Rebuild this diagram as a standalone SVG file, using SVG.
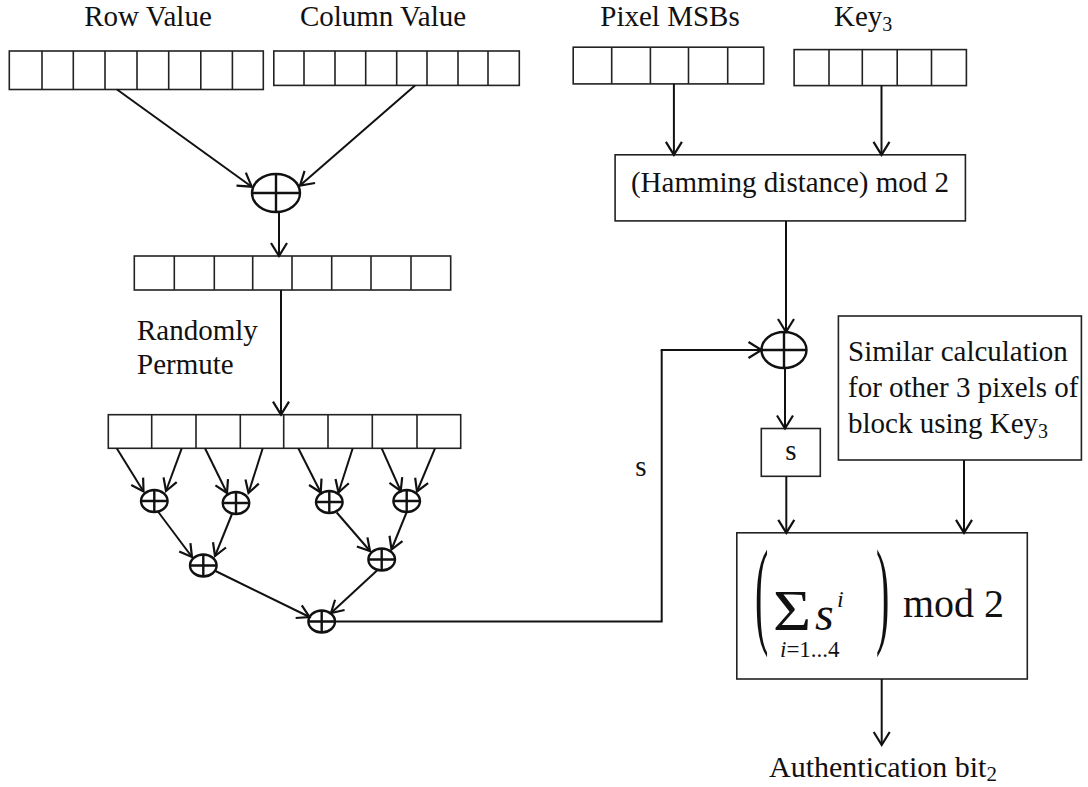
<svg xmlns="http://www.w3.org/2000/svg" width="1088" height="787" viewBox="0 0 1088 787">
  <defs>
    <marker id="head" markerUnits="userSpaceOnUse" markerWidth="30" markerHeight="30" viewBox="-15 -15 30 30" refX="0" refY="0" orient="auto">
      <path d="M-13,-8 L0,0 L-13,8" fill="none" stroke="#111" stroke-width="2.2"/>
    </marker>
    <marker id="headS" markerUnits="userSpaceOnUse" markerWidth="30" markerHeight="30" viewBox="-15 -15 30 30" refX="0" refY="0" orient="auto">
      <path d="M-12,-7 L0,0 L-12,7" fill="none" stroke="#111" stroke-width="2.2"/>
    </marker>
  </defs>
  <style>
    text { font-family: "Liberation Serif", "Times New Roman", serif; fill: #111; }
    .lbl { font-size: 29px; }
    .box { fill: #fff; stroke: #222; stroke-width: 1.6; }
    .cell { stroke: #222; stroke-width: 1.6; }
    .xor { fill: #fff; stroke: #111; stroke-width: 2.4; }
    .xl { stroke: #111; stroke-width: 2.4; }
    .wire { fill: none; stroke: #111; stroke-width: 2; }
    .arr { fill: none; stroke: #111; stroke-width: 2; marker-end: url(#head); }
    .arrS { fill: none; stroke: #111; stroke-width: 2; marker-end: url(#headS); }
  </style>

  <rect width="1088" height="787" fill="#fff"/>

  <!-- input labels -->
  <g id="labels">
    <text class="lbl" x="148" y="26" text-anchor="middle">Row Value</text>
    <text class="lbl" x="383" y="26" text-anchor="middle">Column Value</text>
    <text class="lbl" x="670" y="26" text-anchor="middle">Pixel MSBs</text>
    <text class="lbl" x="834" y="26">Key<tspan font-size="20" dy="5">3</tspan></text>
    <text class="lbl" x="137" y="340">Randomly</text>
    <text class="lbl" x="137" y="374">Permute</text>
    <text class="lbl" x="641" y="476" text-anchor="middle">s</text>
    <text x="769" y="777" font-size="30">Authentication bit<tspan font-size="21" dy="4">2</tspan></text>
  </g>

  <!-- 8-bit row register -->
  <g id="row-register">
    <rect class="box" x="9.3" y="51" width="254" height="38.5"/>
    <path class="cell" d="M42,51V89.5M73.3,51V89.5M105,51V89.5M137,51V89.5M168.7,51V89.5M200.8,51V89.5M232.4,51V89.5"/>
  </g>

  <!-- 8-bit column register -->
  <g id="column-register">
    <rect class="box" x="273.8" y="51" width="245.5" height="34.4"/>
    <path class="cell" d="M304,51V85.4M335,51V85.4M365.7,51V85.4M396.7,51V85.4M427,51V85.4M458,51V85.4M488,51V85.4"/>
  </g>

  <!-- pixel MSB register -->
  <g id="pixel-register">
    <rect class="box" x="573.2" y="47.2" width="190.5" height="36.7"/>
    <path class="cell" d="M611.7,47.2V83.9M650.4,47.2V83.9M688.5,47.2V83.9M727.7,47.2V83.9"/>
  </g>

  <!-- key register -->
  <g id="key-register">
    <rect class="box" x="794.1" y="49.6" width="172.3" height="36"/>
    <path class="cell" d="M829,49.6V85.6M862.3,49.6V85.6M897.2,49.6V85.6M931.5,49.6V85.6"/>
  </g>

  <!-- XOR of row and column -->
  <g id="xor-top">
    <ellipse class="xor" cx="276" cy="193" rx="24" ry="19"/>
    <path class="xl" d="M252,193H300M276,174V212"/>
  </g>

  <!-- combined register -->
  <g id="combined-register">
    <rect class="box" x="134.3" y="256" width="316.4" height="34"/>
    <path class="cell" d="M174.3,256V290M214.3,256V290M252.7,256V290M292,256V290M331.7,256V290M371,256V290M411,256V290"/>
  </g>

  <!-- permuted register -->
  <g id="permuted-register">
    <rect class="box" x="108.3" y="414.7" width="352.4" height="33.6"/>
    <path class="cell" d="M151.7,414.7V448.3M196,414.7V448.3M240.3,414.7V448.3M283.7,414.7V448.3M328,414.7V448.3M372.3,414.7V448.3M417,414.7V448.3"/>
  </g>

  <!-- XOR reduction tree -->
  <g id="xor-1"><ellipse class="xor" cx="154.3" cy="501" rx="13.3" ry="11"/><path class="xl" d="M141,501H167.6M154.3,490V512"/></g>
  <g id="xor-2"><ellipse class="xor" cx="236" cy="503" rx="13.3" ry="11"/><path class="xl" d="M222.7,503H249.3M236,492V514"/></g>
  <g id="xor-3"><ellipse class="xor" cx="329.3" cy="502" rx="13.3" ry="11"/><path class="xl" d="M316,502H342.6M329.3,491V513"/></g>
  <g id="xor-4"><ellipse class="xor" cx="406.7" cy="501" rx="13.3" ry="11"/><path class="xl" d="M393.4,501H420M406.7,490V512"/></g>
  <g id="xor-5"><ellipse class="xor" cx="203.3" cy="565.5" rx="13.3" ry="11"/><path class="xl" d="M190,565.5H216.6M203.3,554.5V576.5"/></g>
  <g id="xor-6"><ellipse class="xor" cx="381.7" cy="559.5" rx="13.3" ry="11"/><path class="xl" d="M368.4,559.5H395M381.7,548.5V570.5"/></g>
  <g id="xor-7"><ellipse class="xor" cx="321.7" cy="621.5" rx="13.3" ry="11"/><path class="xl" d="M308.4,621.5H335M321.7,610.5V632.5"/></g>

  <!-- Hamming distance block -->
  <g id="hamming">
    <rect class="box" x="615.1" y="154.8" width="350.3" height="66.1"/>
    <text class="lbl" x="790" y="192" text-anchor="middle">(Hamming distance) mod 2</text>
  </g>

  <!-- XOR of parity and tree output -->
  <g id="xor-s">
    <ellipse class="xor" cx="784" cy="350" rx="22.5" ry="18"/>
    <path class="xl" d="M761.5,350H806.5M784,332V368"/>
  </g>

  <!-- s register -->
  <g id="s-box">
    <rect class="box" x="761.3" y="428.5" width="59" height="47.8"/>
    <text class="lbl" x="790.8" y="460" text-anchor="middle">s</text>
  </g>

  <!-- remaining pixels of the block -->
  <g id="other-pixels">
    <rect class="box" x="838.4" y="316" width="243" height="144"/>
    <text class="lbl" x="848" y="361">Similar calculation</text>
    <text class="lbl" x="848" y="397">for other 3 pixels of</text>
    <text class="lbl" x="848" y="433">block using Key<tspan font-size="20" dy="5">3</tspan></text>
  </g>

  <!-- parity sum block -->
  <g id="parity-sum">
    <rect class="box" x="736.8" y="532.8" width="290.5" height="146.2"/>
    <text x="0" y="0" font-size="40" transform="translate(755,632) scale(1,2.95)">(</text>
    <text x="0" y="0" font-size="57" transform="translate(773,630) scale(1.15,1)">Σ</text>
    <text x="815" y="630" font-size="48" font-style="italic">s</text>
    <text x="837" y="607" font-size="24" font-style="italic">i</text>
    <text x="780" y="657" font-size="23"><tspan font-style="italic">i</tspan>=1...4</text>
    <text x="0" y="0" font-size="40" transform="translate(876,632) scale(1,2.95)">)</text>
    <text x="903" y="617" font-size="40">mod 2</text>
  </g>

  <!-- connectors -->
  <g id="connectors">
    <path class="arr" d="M117,89.5L251.7,186.7"/>
    <path class="arr" d="M415,85.4L300,185.5"/>
    <path class="arr" d="M279,212V256"/>
    <path class="arr" d="M281,290V414.7"/>

    <path class="arrS" d="M116.7,448.3L143.5,491.5"/>
    <path class="arrS" d="M181.7,448.3L166,491"/>
    <path class="arrS" d="M205,448.3L227,493"/>
    <path class="arrS" d="M262.7,448.3L248.5,493"/>
    <path class="arrS" d="M298.3,448.3L320.7,492.5"/>
    <path class="arrS" d="M352.7,448.3L338.5,492.5"/>
    <path class="arrS" d="M381.7,448.3L400.7,491"/>
    <path class="arrS" d="M435,448.3L417,491.5"/>

    <path class="arrS" d="M158.3,512L192,557"/>
    <path class="arrS" d="M232,514L215,556"/>
    <path class="arrS" d="M336.7,512.5L370,551"/>
    <path class="arrS" d="M406.7,512L391.5,549.5"/>
    <path class="arrS" d="M215.5,571L309.5,617"/>
    <path class="arrS" d="M377,570.5L331,613"/>

    <path class="wire" d="M335,621.5H661.7V350"/>
    <path class="arr" d="M660.7,350H761.5"/>

    <path class="arr" d="M673.9,83.9V154.8"/>
    <path class="arr" d="M881.5,85.6V154.8"/>
    <path class="arr" d="M786,220.9V332"/>
    <path class="arr" d="M785,368V428.5"/>
    <path class="arr" d="M786.3,476.3V532.8"/>
    <path class="arr" d="M964,460V532.8"/>
    <path class="arr" d="M881.7,679V745"/>
  </g>
</svg>
